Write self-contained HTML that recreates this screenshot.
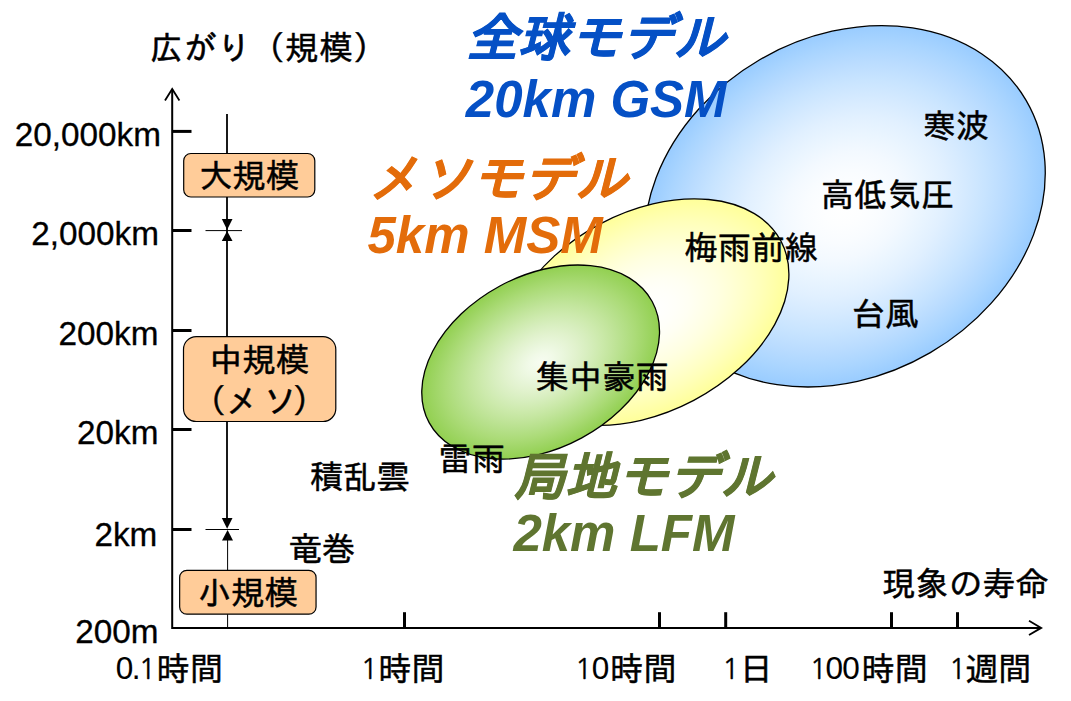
<!DOCTYPE html>
<html lang="ja">
<head>
<meta charset="utf-8">
<title>気象現象のスケールと数値予報モデル</title>
<style>
html,body{margin:0;padding:0;background:#fff;}
body{width:1071px;height:701px;overflow:hidden;}
svg{display:block;}
.jp{font-family:"Liberation Sans","IPAGothic",sans-serif;fill:#000;stroke:#000;stroke-width:0.5px;}
.ax{font-family:"Liberation Sans","IPAGothic",sans-serif;fill:#000;font-size:33.3px;stroke:#000;stroke-width:0.3px;}
.hd{font-family:"Liberation Sans","IPAGothic",sans-serif;font-weight:bold;font-style:italic;}
.hj{font-size:52px;stroke-width:0.8px;}
.xl{font-family:"Liberation Sans","IPAGothic",sans-serif;fill:#000;font-size:33.3px;stroke:#000;stroke-width:0.5px;}
.d0{font-size:31.5px;stroke-width:0.1px;}
.d1{font-family:"NanumGothic","Liberation Sans",sans-serif;font-size:29px;stroke-width:0.3px;}
</style>
</head>
<body>
<svg width="1071" height="701" viewBox="0 0 1071 701">
<defs>
<radialGradient id="gb" cx="50%" cy="50%" r="50%">
<stop offset="0.00" stop-color="#ffffff"/><stop offset="0.10" stop-color="#fdfeff"/><stop offset="0.20" stop-color="#f9fcff"/><stop offset="0.30" stop-color="#f3f9ff"/><stop offset="0.40" stop-color="#eaf5ff"/><stop offset="0.50" stop-color="#e1f0ff"/><stop offset="0.60" stop-color="#d5eaff"/><stop offset="0.70" stop-color="#c8e4ff"/><stop offset="0.80" stop-color="#badcff"/><stop offset="0.90" stop-color="#aad5ff"/><stop offset="1.00" stop-color="#99ccff"/>
</radialGradient>
<radialGradient id="gy" cx="50%" cy="50%" r="50%">
<stop offset="0.00" stop-color="#ffffff"/><stop offset="0.10" stop-color="#fffffd"/><stop offset="0.20" stop-color="#fffff9"/><stop offset="0.30" stop-color="#fffff3"/><stop offset="0.40" stop-color="#ffffea"/><stop offset="0.50" stop-color="#ffffe1"/><stop offset="0.60" stop-color="#ffffd5"/><stop offset="0.70" stop-color="#ffffc8"/><stop offset="0.80" stop-color="#ffffba"/><stop offset="0.90" stop-color="#ffffaa"/><stop offset="1.00" stop-color="#ffff99"/>
</radialGradient>
<radialGradient id="gg" cx="50%" cy="50%" r="50%">
<stop offset="0.00" stop-color="#f7fcf1"/><stop offset="0.10" stop-color="#f1fae8"/><stop offset="0.20" stop-color="#e9f6db"/><stop offset="0.30" stop-color="#e1f2cd"/><stop offset="0.40" stop-color="#d7eebe"/><stop offset="0.50" stop-color="#cdeaad"/><stop offset="0.60" stop-color="#c2e59c"/><stop offset="0.70" stop-color="#b6e08a"/><stop offset="0.80" stop-color="#abdb77"/><stop offset="0.90" stop-color="#9ed564"/><stop offset="1.00" stop-color="#92d050"/>
</radialGradient>
</defs>
<rect width="1071" height="701" fill="#fff"/>

<!-- ellipses -->
<g id="ellipses" stroke="#000" stroke-width="1.3">
<ellipse cx="0" cy="0" rx="210" ry="169.5" fill="url(#gb)" transform="translate(844.8 206.3) rotate(-30.3)"/>
<ellipse cx="0" cy="0" rx="151.6" ry="99.9" fill="url(#gy)" transform="translate(647 312.1) rotate(-27.9)"/>
<ellipse cx="0" cy="0" rx="126.9" ry="86.3" fill="url(#gg)" transform="translate(540.65 362.05) rotate(-28.5)"/>
</g>

<!-- axes -->
<g id="axes" stroke="#000" fill="none">
<path d="M172.2 89.5 V627.9 H1041" stroke-width="2"/>
<path d="M165 100.5 L172.2 89 L179.4 100.5" stroke-width="1.8"/>
<path d="M1029 620.8 L1041.2 627.9 L1029 635" stroke-width="1.8"/>
<g stroke-width="3">
<path d="M172 131.4 H191.5"/><path d="M172 230.5 H191.5"/><path d="M172 330.5 H191.5"/><path d="M172 429.5 H191.5"/><path d="M172 529.5 H191.5"/>
<path d="M404.5 628 V612.2"/><path d="M659.5 628 V612.2"/><path d="M725.7 628 V612.2"/><path d="M891.5 628 V612.2"/><path d="M957.5 628 V612.2"/>
</g>
<!-- range line -->
<path d="M227 114 V520" stroke-width="1.8"/>
<path d="M227.6 540 V628" stroke-width="1"/>
<path d="M205.5 230.6 H242" stroke-width="1"/>
<path d="M205.5 529.5 H239" stroke-width="1"/>
</g>
<g id="arrows" fill="#000">
<path d="M221.8 219 H232.5 L227.1 229.8 Z"/><path d="M221.8 241 H232.5 L227.1 231 Z"/>
<path d="M221.8 518 H232.5 L227.1 528.8 Z"/><path d="M222 540.5 H233 L227.6 530 Z"/>
</g>

<!-- scale boxes -->
<g id="boxes" fill="#ffcc99" stroke="#000" stroke-width="1.2">
<rect x="183.7" y="153.5" width="131.1" height="43.5" rx="7.2" ry="7.2"/>
<rect x="183.5" y="336.7" width="152.3" height="84.8" rx="12.7" ry="12.7"/>
<rect x="179.65" y="570.3" width="136.4" height="43.9" rx="7.2" ry="7.2"/>
</g>
<g class="jp" font-size="33.3">
<text x="199.2" y="187.9">大規模</text>
<text x="209.2" y="372.3">中規模</text>
<text y="413"><tspan x="192.7">（</tspan><tspan x="225.6">メ</tspan><tspan x="263.2">ソ</tspan><tspan x="292.6">）</tspan></text>
<text x="197.9" y="604.5">小規模</text>
</g>

<!-- axis labels -->
<g class="ax">
<text x="149.7" y="59.5" letter-spacing="0.6" stroke-width="0.5">広がり（規模）</text>
<g text-anchor="end">
<text x="161" y="145.7">20,000km</text>
<text x="159" y="245">2,000km</text>
<text x="158.5" y="344.5">200km</text>
<text x="158.5" y="443.9">20km</text>
<text x="157.3" y="545.7">2km</text>
<text x="158.5" y="643.2">200m</text>
</g>
<text x="882.3" y="595.5" stroke-width="0.5">現象の寿命</text>
</g>
<g class="xl">
<text><tspan class="d0" x="115.8" y="679.4" letter-spacing="-1.6">0.</tspan><tspan class="d1" x="138.4" y="679.4">1</tspan><tspan x="156.6" y="681.2">時間</tspan></text>
<text><tspan class="d1" x="360.6" y="679.4">1</tspan><tspan x="378.3" y="681.2">時間</tspan></text>
<text><tspan class="d1" x="574.8" y="679.4">1</tspan><tspan class="d0" x="591.7" y="679.4">0</tspan><tspan x="610.1" y="681.2">時間</tspan></text>
<text><tspan class="d1" x="722.1" y="679.4">1</tspan><tspan x="739.8" y="681.2">日</tspan></text>
<text><tspan class="d1" x="809.5" y="679.4">1</tspan><tspan class="d0" x="825.5" y="679.4" letter-spacing="-0.7">00</tspan><tspan x="861.5" y="681.2">時間</tspan></text>
<text><tspan class="d1" x="948.7" y="679.4">1</tspan><tspan x="965" y="681.2">週間</tspan></text>
</g>

<!-- phenomenon labels -->
<g class="jp" font-size="33.3">
<text x="922.4" y="138">寒波</text>
<text x="820.8" y="206.5">高低気圧</text>
<text x="684.5" y="259.5">梅雨前線</text>
<text x="852" y="325.5">台風</text>
<text x="535.7" y="389">集中豪雨</text>
<text x="438.5" y="470.8">雷雨</text>
<text x="309.7" y="489">積乱雲</text>
<text x="288.4" y="560.5">竜巻</text>
</g>

<!-- model headings -->
<g class="hd" font-size="51">
<text class="hj" x="466" y="56" fill="#0550c5" stroke="#0550c5">全球モデル</text>
<text x="465.8" y="116.6" fill="#0550c5">20km GSM</text>
<text class="hj" x="367.8" y="196.8" fill="#e36c0a" stroke="#e36c0a">メソモデル</text>
<text x="367.5" y="253.2" fill="#e36c0a">5km MSM</text>
<text class="hj" x="513" y="494.9" fill="#5f7530" stroke="#5f7530">局地モデル</text>
<text x="513.4" y="550.9" fill="#5f7530">2km LFM</text>
</g>
</svg>
</body>
</html>
